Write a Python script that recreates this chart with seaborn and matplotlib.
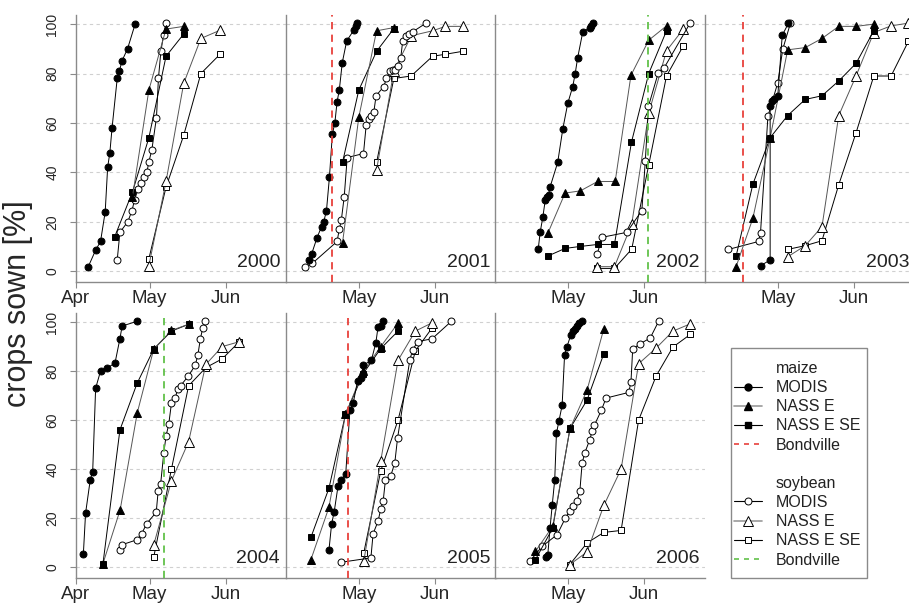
import matplotlib
matplotlib.use("Agg")
import matplotlib.pyplot as plt
from matplotlib.lines import Line2D
from matplotlib.patches import Rectangle
import pandas as pd
import seaborn as sns

years = [2000, 2001, 2002, 2003, 2004, 2005, 2006]
month_days = [91, 121, 152]
month_names = ["Apr", "May", "Jun"]

# (day of year, % sown)
maize_modis = {
    2000: [(96, 1.8), (99, 8.5), (101, 12), (102.9, 24), (103.9, 42), (104.8, 48), (105.7, 58),
           (107.8, 78), (108.7, 81), (109.7, 85), (112, 90), (115.1, 100)],
    2001: [(101, 4.5), (101.9, 7), (104.1, 13.6), (105.9, 18), (106.8, 20), (107.9, 24.5), (109.1, 38),
           (110.3, 55.6), (111.3, 60), (112.2, 68.6), (113.1, 73.3), (114.3, 84.4), (116.1, 93.2),
           (119, 97.6), (119.7, 99.3), (120.3, 100.4)],
    2002: [(109, 8.8), (109.8, 15.7), (110.9, 22), (111.9, 29), (112.6, 30), (113.2, 31), (113.8, 34),
           (116.9, 44), (119, 57.7), (121, 68), (123, 74.7), (124, 80), (125, 86.4), (127.1, 97),
           (129.8, 98.4), (130.4, 99.3), (131.1, 100.3)],
    2003: [(114, 2.2), (117.9, 4.5), (117.9, 67), (118.7, 68.8), (119.4, 69.8), (121, 71), (122.8, 95.5),
           (125.3, 100.3)],
    2004: [(94, 5.4), (94.9, 22), (96.8, 35.6), (97.8, 39), (99, 73), (101, 80), (103.8, 81.3), (106.9, 83.3),
           (108.9, 93.2), (109.8, 98.4), (115.9, 100.3)],
    2005: [(108.9, 6.9), (110, 17.8), (111, 22.4), (112.6, 33.2), (113.7, 35.6), (115.7, 38), (117.4, 64),
           (118.7, 66.8), (120.5, 76), (121.8, 77.2), (122.8, 79), (122.8, 82.4), (126.1, 84.4),
           (127.9, 91.5), (128.8, 98), (129.9, 98.6), (130.9, 100.4)],
    2006: [(112, 4.1), (112.9, 5.1), (113.8, 16), (114.7, 25.5), (115.7, 35.6), (116.4, 54.6), (117.4, 59.6),
           (118.7, 66), (119.7, 86.7), (120.6, 89.8), (122.3, 94.9), (123.1, 96.2), (123.8, 97.3),
           (124.8, 98.6), (125.7, 99.7), (126.8, 100.3)],
}
maize_nass_e = {
    2000: [(114, 30), (120.7, 73.3), (127.7, 98), (134.9, 99.1)],
    2001: [(114.4, 11.4), (121, 62.3), (128.2, 97.3), (135.2, 98.6)],
    2002: [(112.9, 15.3), (119.9, 31.6), (126.1, 32.5), (133.1, 36.3), (140.2, 36.3), (146.6, 79.3),
           (153.8, 93.5), (161, 99.3)],
    2003: [(104.1, 1.8), (110.9, 21.4), (117.9, 54), (125, 89.6), (132.1, 90.5), (138.9, 94.2),
           (145.7, 99.1), (152.7, 99.1), (159.9, 100)],
    2004: [(102, 1.5), (109, 23.4), (116, 63.1), (122.7, 89), (129.9, 96.6), (136.9, 99.1)],
    2005: [(101.6, 3.1), (108.9, 24.4), (115.6, 62.3), (122.8, 80), (129.9, 90), (136.9, 99.6)],
    2006: [(107.9, 6.5), (114.9, 16.7), (121.9, 56.6), (128.8, 72.2), (135.6, 97.3)],
}
maize_nass_se = {
    2000: [(106.8, 14), (114, 32), (120.7, 54), (127.7, 87), (134.9, 96)],
    2001: [(114.4, 44), (121, 73.3), (128.2, 89), (135.2, 98.2)],
    2002: [(112.9, 6.1), (119.9, 9.2), (126.1, 10), (133.1, 10.8), (139.9, 10.8), (146.8, 52.2),
           (153.8, 80), (161, 97.3)],
    2003: [(104.1, 6.1), (110.9, 35.2), (117.9, 54), (125, 63), (132.1, 69.5), (138.9, 71), (145.7, 77),
           (152.7, 84.1), (159.9, 97.3)],
    2004: [(102, 1.5), (108.9, 56), (115.9, 75), (122.7, 89), (129.9, 96.3), (136.9, 99.1)],
    2005: [(101.6, 12.2), (108.9, 32.2), (115.6, 62.3), (122.8, 79), (129.9, 89.2), (136.9, 96.3)],
    2006: [(107.9, 3.1), (114.9, 16), (121.9, 56.6), (128.8, 68.2), (135.6, 87.1)],
}
soy_modis = {
    2000: [(107.8, 4.5), (108.9, 15.7), (112.1, 20), (113.8, 24.4), (114.9, 29), (116.3, 33.2), (117.6, 35.5),
           (118.8, 38), (119.9, 40), (120.7, 44.3), (121.9, 49), (123.8, 62.2), (124.6, 78), (125.6, 89),
           (126.7, 95.7), (127.6, 100.3)],
    2001: [(99.1, 1.8), (102.1, 3.1), (112.2, 12), (113.1, 17), (113.9, 20.5), (115.1, 30.2), (116.3, 46),
           (122.9, 47.6), (124, 59.2), (125, 61.7), (126, 63), (127.1, 64.5), (128, 71), (131.1, 74.7),
           (132.2, 78), (133.8, 81.2), (134.8, 81.4), (135.8, 81.3), (136.9, 83.1), (138, 86.4),
           (138.8, 93.2), (140.3, 95), (141.4, 96), (143, 97), (148.1, 100.3)],
    2002: [(132.9, 6.9), (134.9, 13.7), (144.9, 15.7), (151, 24.5), (152.4, 44.4), (153.7, 66.8),
           (157.7, 80.4), (160.1, 82.4), (170.5, 100.3)],
    2003: [(101, 8.8), (113.2, 12), (114, 15.6), (117, 62.7), (121, 76.3), (123, 89.8), (126.1, 100.3)],
    2004: [(108.9, 6.9), (109.8, 9.2), (115.9, 11.2), (117.8, 13.7), (119.8, 17.8), (123.7, 22.4),
           (124.5, 31.2), (125.5, 34), (126.8, 46.7), (127.7, 53.5), (128.8, 58.3), (129.9, 66.8),
           (131.5, 69.2), (132.4, 72.6), (133.6, 74), (136.8, 78), (139.6, 82.4), (140.7, 86.7),
           (141.7, 93.2), (142.7, 97.7), (143.6, 100.3)],
    2005: [(113.7, 2), (125.9, 3.8), (126.8, 13.7), (128.8, 18.7), (129.9, 23.8), (130.9, 27.2),
           (131.8, 35.6), (134, 37.4), (135.6, 42.7), (136.7, 52.6), (141.7, 84.7), (142.8, 88.5),
           (144.8, 92), (150.7, 93.2), (158.5, 100.3)],
    2006: [(105.6, 2.4), (110.6, 8.5), (116.7, 13.3), (120, 20), (121.7, 22.8), (123, 24.8), (124.8, 27.1),
           (125.9, 31.2), (126.8, 42.4), (127.9, 46.7), (129.9, 52), (130.9, 55.6), (131.8, 58), (134.6, 64),
           (136.5, 69), (145.7, 71.3), (146.6, 75.6), (147.3, 89), (150.4, 91.2), (154.4, 93.5),
           (157.8, 100.3)],
}
soy_nass_e = {
    2000: [(120.7, 2.2), (127.7, 36.3), (134.9, 76), (141.9, 94.2), (149.9, 97.6)],
    2001: [(128.2, 41), (135.2, 81), (142.3, 95.3), (150.9, 97.3), (156.1, 99.1), (163.1, 99.1)],
    2002: [(132.9, 1.8), (139.9, 1.8), (146.9, 19), (153.8, 64), (161, 89.2), (167.8, 98)],
    2003: [(125, 5.8), (132.1, 10.3), (138.9, 18), (145.7, 63), (152.7, 79), (159.9, 96.6), (166.9, 99.3),
           (173.9, 100.4)],
    2004: [(122.7, 9.2), (129.9, 35.2), (136.9, 51.2), (143.9, 82.7), (150.6, 90), (157.6, 92)],
    2005: [(123, 2.4), (129.9, 43.4), (136.9, 84.4), (143.9, 96.3), (150.7, 99.7)],
    2006: [(121.8, 1.1), (128.8, 6.2), (135.6, 25.2), (142.6, 40), (149.7, 83), (156.8, 89.4), (163.6, 96.3),
           (170.7, 99.3)],
}
soy_nass_se = {
    2000: [(120.7, 5), (127.7, 34), (134.9, 55), (141.9, 80), (149.9, 88)],
    2001: [(128.2, 44), (135.2, 78), (142.2, 79), (150.9, 87), (156.1, 87.8), (163.1, 89)],
    2002: [(132.9, 1.1), (139.9, 1.1), (146.9, 8.9), (153.8, 43), (161, 79), (167.8, 91.2)],
    2003: [(125, 8.8), (132.1, 10.3), (138.9, 12.3), (145.7, 35), (152.7, 56), (159.9, 79), (166.9, 79),
           (173.9, 93)],
    2004: [(122.7, 4.2), (129.9, 40), (136.9, 74), (143.9, 81.4), (150.6, 85), (157.6, 92)],
    2005: [(123, 5.8), (129.9, 39.3), (136.9, 60), (143.9, 88.2), (150.7, 97.6)],
    2006: [(121.8, 1.1), (128.8, 9.9), (135.6, 14.2), (142.6, 15), (149.7, 60), (156.8, 78), (163.6, 89.8),
           (170.7, 95)],
}
bondville_maize = {2001: 110.2, 2003: 106.8, 2005: 116.8}
bondville_soy = {2002: 153.7, 2004: 126.8}

RED = "#e8413c"
GREEN = "#62c14a"
GRID = "#d0d0d0"
FRAME = "#8a8a8a"

sns.set_style("white")
plt.rcParams["font.family"] = ["Liberation Sans", "DejaVu Sans"]

fig = plt.figure(figsize=(9.09, 6.07), dpi=100)
W, H = 909, 607
col_left = [76, 286, 495, 705]
row_top = [15, 313]
row_bot = [282, 578]
panel_w = 210

# soybean first so maize sits on top
series = [
    (soy_nass_se, "s", "white", "black", 5.0),
    (soy_nass_e, "^", "white", "#555555", 6.5),
    (soy_modis, "o", "white", "black", 5.0),
    (maize_nass_se, "s", "black", "black", 5.0),
    (maize_nass_e, "^", "black", "#555555", 6.0),
    (maize_modis, "o", "black", "black", 5.0),
]

axes = []
for r in range(2):
    for c in range(4):
        if r == 1 and c == 3:
            continue
        x0 = col_left[c] / W
        y0 = (H - row_bot[r]) / H
        h = (row_bot[r] - row_top[r]) / H
        ax = fig.add_axes([x0, y0, panel_w / W, h])
        axes.append((r, c, ax))

for (r, c, ax), yr in zip(axes, years):
    for table, mk, fill, lcol, ms in series:
        df = pd.DataFrame(table[yr], columns=["day", "pct"])
        sns.lineplot(data=df, x="day", y="pct", ax=ax, sort=False, estimator=None,
                     color=lcol, linewidth=0.7, marker=mk, markersize=ms,
                     markerfacecolor=fill, markeredgecolor="black", markeredgewidth=0.7,
                     zorder=3)
    if yr in bondville_maize:
        ax.axvline(bondville_maize[yr], color=RED, lw=1.3, ls=(0, (4, 3)), zorder=4)
    if yr in bondville_soy:
        ax.axvline(bondville_soy[yr], color=GREEN, lw=1.3, ls=(0, (4, 3)), zorder=4)

    ax.set_xlim(91.5, 176.6)
    ax.set_ylim(-4.4, 103.7)
    for g in range(0, 101, 20):
        ax.axhline(g, color=GRID, lw=0.8, ls=(0, (3, 3)), zorder=1)
    ax.set_xlabel("")
    ax.set_ylabel("")

    if c == 0:
        ax.set_xticks(month_days)
        ax.set_xticklabels(month_names)
        ax.set_yticks(range(0, 101, 20))
        ax.set_yticklabels([str(v) for v in range(0, 101, 20)], rotation=90, va="center")
        ax.tick_params(axis="y", length=4, pad=8, labelsize=10, color=FRAME, left=True)
    else:
        ax.set_xticks(month_days[1:])
        ax.set_xticklabels(month_names[1:])
        ax.set_yticks([])
    ax.tick_params(axis="x", length=4, pad=2, labelsize=13.5, color=FRAME, bottom=True)

    for side in ["top", "right"]:
        ax.spines[side].set_visible(False)
    for side in ["left", "bottom"]:
        ax.spines[side].set_color(FRAME)
        ax.spines[side].set_linewidth(1.0)
    ax.set_facecolor("white")

    ax.text(0.972, 0.055, str(yr), transform=ax.transAxes, ha="right", va="baseline",
            fontsize=14, color="#222222", zorder=5)

fig.text(18 / W, 0.5, "crops sown [%]", rotation=90, ha="center", va="center", fontsize=22)

# legend frame drawn by hand so its padding matches the original box
fig.patches.append(Rectangle((731 / W, (H - 578) / H), (867 - 731) / W, (578 - 348) / H,
                             transform=fig.transFigure, fill=False, edgecolor=FRAME, lw=1.0))

blank = Line2D([], [], linestyle="none")
handles = [
    blank,
    Line2D([], [], color="black", lw=0.8, marker="o", ms=5, mfc="black", mec="black"),
    Line2D([], [], color="#999999", lw=1.2, marker="^", ms=6, mfc="black", mec="black"),
    Line2D([], [], color="black", lw=0.8, marker="s", ms=5, mfc="black", mec="black"),
    Line2D([], [], color=RED, lw=1.2, ls=(0, (3, 3))),
    blank,
    blank,
    Line2D([], [], color="black", lw=0.8, marker="o", ms=5, mfc="white", mec="black", mew=0.7),
    Line2D([], [], color="#999999", lw=1.2, marker="^", ms=6.5, mfc="white", mec="black", mew=0.7),
    Line2D([], [], color="black", lw=0.8, marker="s", ms=5, mfc="white", mec="black", mew=0.7),
    Line2D([], [], color=GREEN, lw=1.2, ls=(0, (3, 3))),
]
labels = ["maize", "MODIS", "NASS E", "NASS E SE", "Bondville", " ",
          "soybean", "MODIS", "NASS E", "NASS E SE", "Bondville"]
leg = fig.legend(handles, labels, loc="upper left", bbox_to_anchor=(734 / W, (H - 361) / H),
                 bbox_transform=fig.transFigure, borderaxespad=0, borderpad=0, fontsize=11.5,
                 frameon=False, labelspacing=0.26, handlelength=1.75, handletextpad=0.85)
for t in leg.get_texts():
    t.set_color("#222222")

fig.savefig("out.png", dpi=100)
